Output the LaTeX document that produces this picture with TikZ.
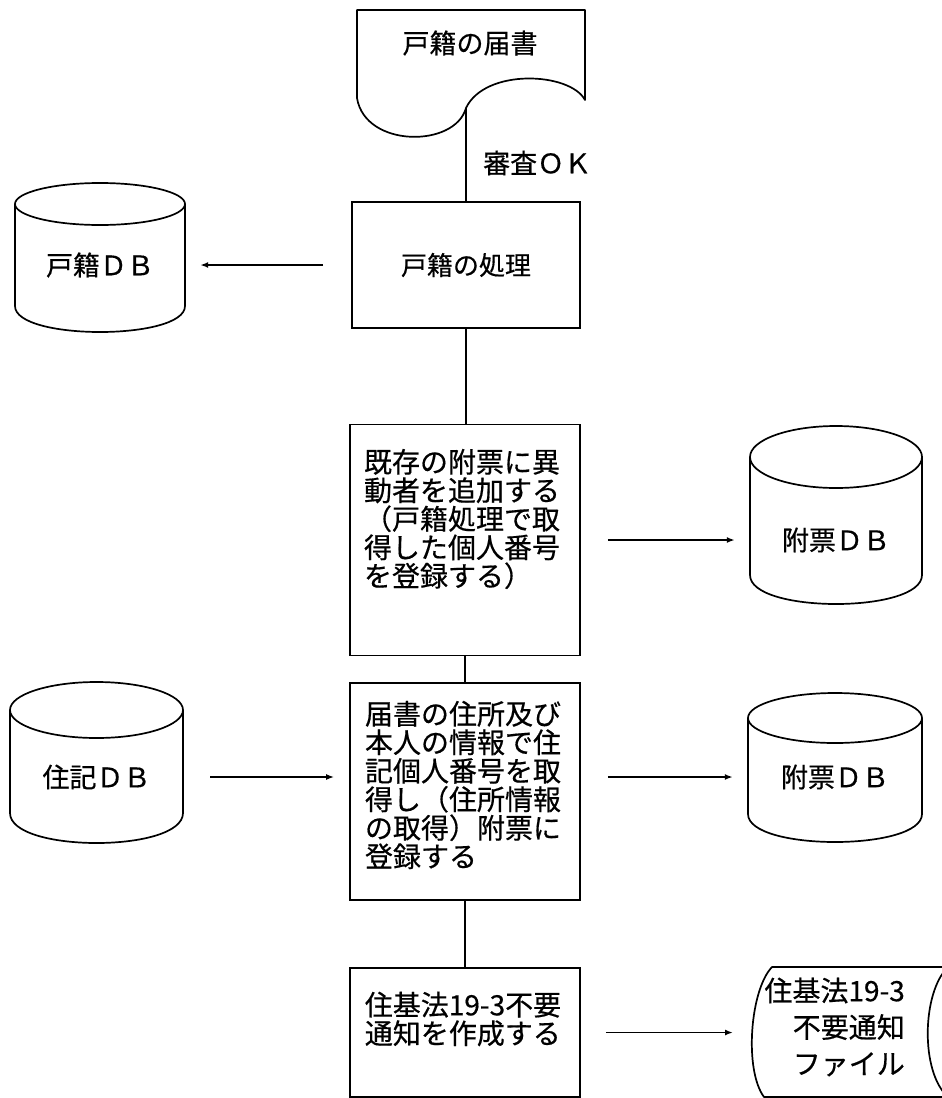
\documentclass[tikz,border=0pt]{standalone}
\usepackage{fontspec}
\newfontfamily\jp[FakeBold=0.5]{Noto Sans CJK JP}
\usetikzlibrary{arrows.meta}
\newcommand\dbcyl[6]{% xl xr ytopcentre rytop ybotcentre rybot
  \draw[ln] (#1,#3) -- (#1,#5) .. controls (#1,{#5+1.3333*#6}) and (#2,{#5+1.3333*#6}) .. (#2,#5) -- (#2,#3);
  \draw[ln] ({(#1+#2)/2},#3) ellipse [x radius={(#2-#1)/2}, y radius=#4];
}
\begin{document}
\begin{tikzpicture}[x=1pt,y=-1pt,
  ln/.style={line width=1.7pt, line join=round},
  arr/.style={ln, -{Latex[length=8pt,width=6pt]}},
  boxst/.style={draw, line width=1.7pt, inner sep=0pt},
  txt/.style={inner sep=0pt, font=\jp\fontsize{28}{28.5}\selectfont},
  txtb/.style={inner sep=0pt, font=\jp\fontsize{27}{27}\selectfont},
  dbt/.style={inner sep=0pt, minimum height=20pt, font=\jp\fontsize{27}{27}\selectfont}]
\useasboundingbox (0,0) rectangle (942,1098);

% document shape (top)
\draw[ln] (357,10) -- (585,10) -- (585,100)
  .. controls (570,72) and (485,68) .. (466,108)
  .. controls (455,148) and (365,148) .. (357,98) -- cycle;
\node[txtb] (doc) at (470,43) {戸籍の届書};
\coordinate (docj) at (466,108);
\node[txtb, anchor=west] (ok) at (483,163) {審査ＯＫ};

% process boxes
\node[boxst, minimum width=228pt, minimum height=126pt, font=\jp\fontsize{26}{26}\selectfont] (box1) at (466,265) {戸籍の処理};
\node[boxst, minimum width=230pt, minimum height=231pt] (box2) at (465,540) {};
\node[txt, align=left] (box2t) at (462,519) {既存の附票に異\\動者を追加する\\（戸籍処理で取\\得した個人番号\\を登録する）};
\node[boxst, minimum width=230pt, minimum height=217pt] (box3) at (465,791.5) {};
\node[txt, align=left] (box3t) at (463,785) {届書の住所及び\\本人の情報で住\\記個人番号を取\\得し（住所情報\\の取得）附票に\\登録する};
\node[boxst, minimum width=230pt, minimum height=129pt] (box4) at (465,1032.5) {};
\node[txt, align=left] (box4t) at (463,1019) {住基法19-3不要\\通知を作成する};

% databases
\dbcyl{15}{185}{204}{21}{306}{26}
\node[dbt, minimum width=170pt] (kdb) at (100,265) {戸籍ＤＢ};
\dbcyl{750}{922}{457}{31}{575}{29}
\node[dbt, minimum width=172pt] (fdb1) at (836,540) {附票ＤＢ};
\dbcyl{10}{183}{710}{28}{813}{30}
\node[dbt, minimum width=173pt] (jdb) at (96.5,777) {住記ＤＢ};
\dbcyl{748}{922}{718}{25}{814}{28}
\node[dbt, minimum width=174pt] (fdb2) at (835,777) {附票ＤＢ};

% stored data file
\draw[ln] (948,967) -- (772,967)
  .. controls (750,990) and (744,1070) .. (764,1097) -- (948,1097);
\draw[ln] (948,967) .. controls (922,992) and (920,1072) .. (948,1097);
\node[txt, align=right, font=\jp\fontsize{28}{36.5}\selectfont, anchor=east] (file) at (905,1027) {住基法19-3\\不要通知\\ファイル};
\coordinate (fileL) at (746,1032.5);

% connectors
\draw[ln] (docj) -- (box1.north);
\draw[ln] (box1.south) -- (box1.south |- box2.north);
\draw[ln] (box2.south) -- (box3.north);
\draw[ln] (box3.south) -- (box4.north);
\draw[arr, shorten <=28pt, shorten >=15pt] (box1.west) -- (kdb.east);
\draw[arr, shorten <=27pt, shorten >=15pt] (box2.east) -- (fdb1.west);
\draw[arr, shorten <=27pt, shorten >=15pt] (jdb.east) -- (jdb.east -| box3.west);
\draw[arr, shorten <=27pt, shorten >=15pt] (box3.east |- fdb2.west) -- (fdb2.west);
\draw[arr, shorten <=25pt, shorten >=13pt] (box4.east) -- (fileL);
\end{tikzpicture}
\end{document}
